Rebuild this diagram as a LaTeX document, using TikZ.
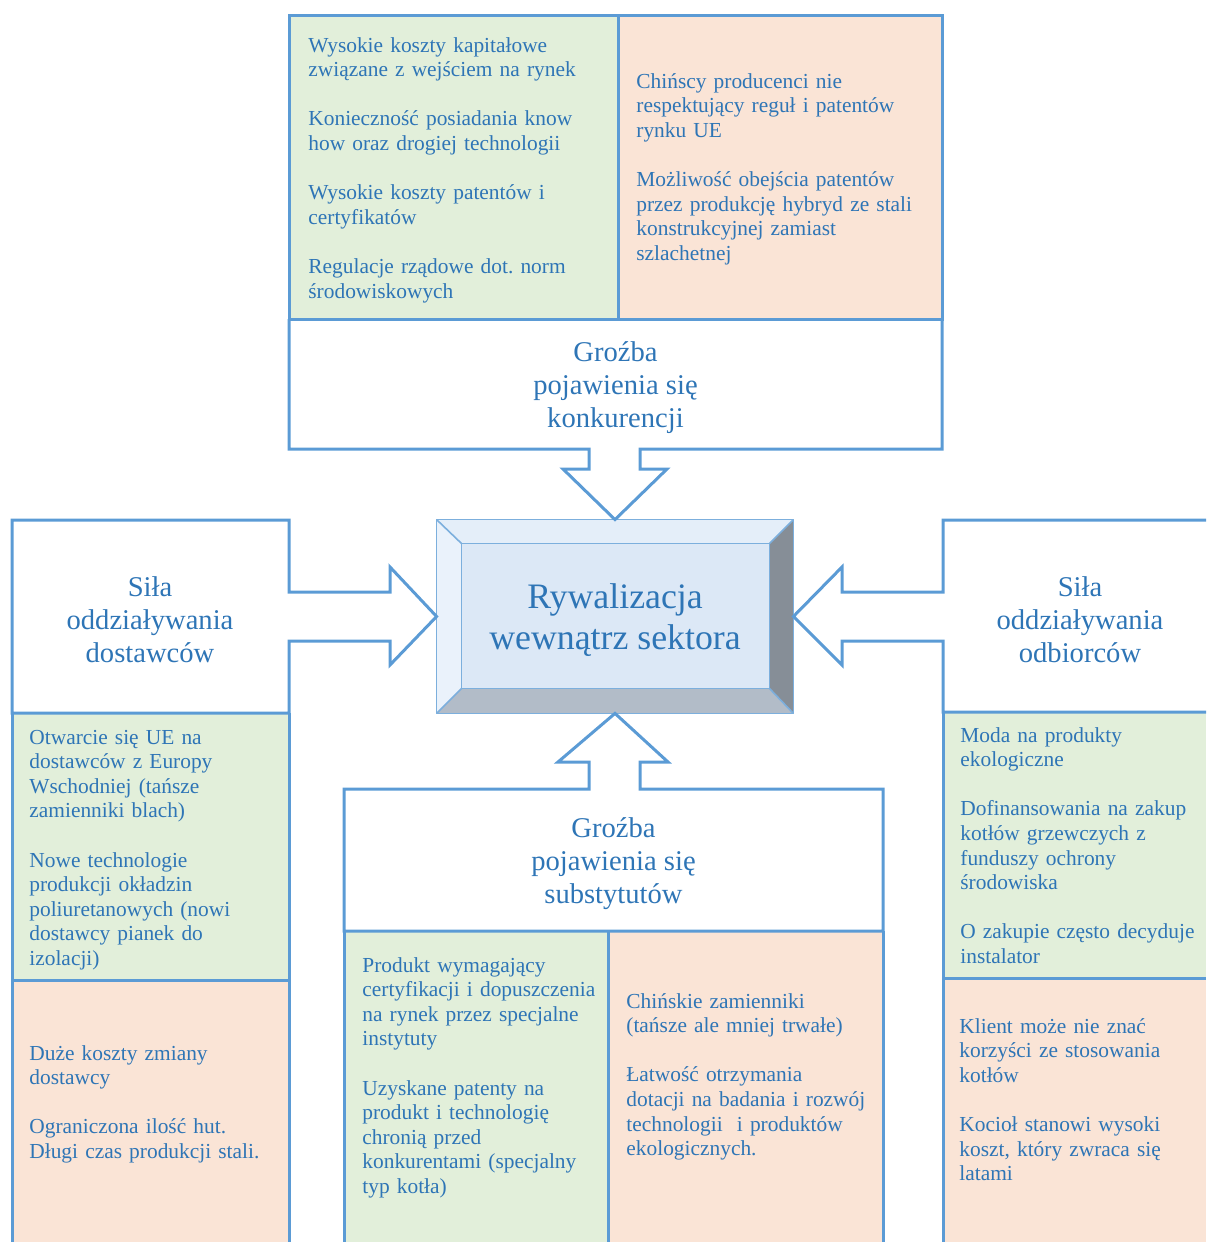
\documentclass[tikz,border=0pt]{standalone}
\usepackage{fontspec}
\setmainfont{Liberation Serif}
\usetikzlibrary{calc}

\definecolor{frameblue}{RGB}{91,155,213}
\definecolor{textblue}{RGB}{46,117,182}
\definecolor{lightgreen}{RGB}{226,239,218}
\definecolor{lightpeach}{RGB}{250,228,214}
\definecolor{bevelface}{RGB}{220,232,246}
\definecolor{beveltop}{RGB}{228,238,249}
\definecolor{bevelleft}{RGB}{234,242,251}
\definecolor{bevelright}{RGB}{134,142,151}
\definecolor{bevelbottom}{RGB}{178,188,200}

\tikzset{
    boxline/.style = {
        draw = frameblue,
        line width = 1.5pt,
        },
    greenfield/.style = {
        fill = lightgreen,
        },
    peachfield/.style = {
        fill = lightpeach,
        },
    headtext/.style = {
        text = textblue,
        align = center,
        inner sep = 0pt,
        font = \fontsize{14.3}{16.5}\selectfont,
        },
    pointtext/.style = {
        text = textblue,
        anchor = base west,
        inner sep = 0pt,
        text width = 140pt,
        align = left,
        font = \fontsize{10.7}{12.3}\selectfont\frenchspacing,
        },
    bevel/.style = {
        draw = frameblue!80,
        line width = 0.8pt,
        line join = round,
        },
}

\begin{document}
\begin{tikzpicture}[x=0.5pt, y=-0.5pt]
\useasboundingbox (0,0) rectangle (1206,1242);

% central block
\path (615,616.5) node[minimum width=178pt, minimum height=96.5pt, inner sep=0pt] (rival) {};
\coordinate (inw) at ($(rival.north west)+(25,24)$);
\coordinate (ine) at ($(rival.north east)+(-24,24)$);
\coordinate (isw) at ($(rival.south west)+(25,-25)$);
\coordinate (ise) at ($(rival.south east)+(-24,-25)$);
\fill[beveltop] (rival.north west) -- (rival.north east) -- (ine) -- (inw) -- cycle;
\fill[bevelleft] (rival.north west) -- (inw) -- (isw) -- (rival.south west) -- cycle;
\fill[bevelright] (rival.north east) -- (rival.south east) -- (ise) -- (ine) -- cycle;
\fill[bevelbottom] (rival.south west) -- (isw) -- (ise) -- (rival.south east) -- cycle;
\fill[bevelface] (inw) rectangle (ise);
\draw[bevel] (rival.north west) rectangle (rival.south east);
\draw[bevel] (inw) rectangle (ise);
\draw[bevel] (rival.north west) -- (inw) (rival.north east) -- (ine)
    (rival.south west) -- (isw) (rival.south east) -- (ise);
\node[headtext, font=\fontsize{17.9}{20.5}\selectfont] (rivaltext) at (615,620) {Rywalizacja\\wewnątrz sektora};

% new entrants (top)
\fill[greenfield] (289,15) rectangle (618,319);
\fill[peachfield] (618,15) rectangle (942,319);
\draw[boxline] (289,15) rectangle (942,319);
\draw[boxline] (618,15) -- (618,319);
\draw[boxline] (289,319) -- (289,449) -- (589,449) -- (589,469) -- (563,469) -- (rival.north)
    -- (667,469) -- (640,469) -- (640,449) -- (942,449) -- (942,319);
\node[headtext] (entry) at (615.5,388) {Groźba\\pojawienia się\\konkurencji};

% suppliers (left)
\fill[greenfield] (12,713) rectangle (289,980);
\fill[peachfield] (12,980) rectangle (289,1242);
\draw[boxline] (12,713) -- (12,1242) (289,713) -- (289,1242) (12,980) -- (289,980);
\draw[boxline] (289,592) -- (289,520) -- (12,520) -- (12,713) -- (289,713) -- (289,641)
    -- (390,641) -- (390,665) -- (rival.west) -- (390,567) -- (390,592) -- cycle;
\node[headtext] (supply) at (150,620) {Siła\\oddziaływania\\dostawców};

% buyers (right)
\fill[greenfield] (943,712) rectangle (1206,978);
\fill[peachfield] (943,978) rectangle (1206,1242);
\draw[boxline] (943,712) -- (943,1242) (943,978) -- (1206,978);
\draw[boxline] (1206,712) -- (943,712) -- (943,641) -- (842,641) -- (842,665) -- (rival.east)
    -- (842,567) -- (842,592) -- (943,592) -- (943,520) -- (1206,520);
\node[headtext] (buyers) at (1080,620) {Siła\\oddziaływania\\odbiorców};

% substitutes (bottom)
\fill[greenfield] (344,931) rectangle (608,1242);
\fill[peachfield] (608,931) rectangle (883,1242);
\draw[boxline] (344,931) -- (344,1242) (883,931) -- (883,1242) (608,931) -- (608,1242);
\draw[boxline] (589,789) -- (344,789) -- (344,931) -- (883,931) -- (883,789) -- (640,789)
    -- (640,762) -- (668,762) -- (rival.south) -- (558,762) -- (589,762) -- cycle;
\node[headtext] (subst) at (613.5,864) {Groźba\\pojawienia się\\substytutów};

% factors
\node[pointtext] (entryplus) at (308,52) {Wysokie koszty kapitałowe\\związane z wejściem na rynek\\[\baselineskip]
    Konieczność posiadania know\\how oraz drogiej technologii\\[\baselineskip]
    Wysokie koszty patentów i\\certyfikatów\\[\baselineskip]
    Regulacje rządowe dot. norm\\środowiskowych};
\node[pointtext] (entryminus) at (636,88) {Chińscy producenci nie\\respektujący reguł i patentów\\rynku UE\\[\baselineskip]
    Możliwość obejścia patentów\\przez produkcję hybryd ze stali\\konstrukcyjnej zamiast\\szlachetnej};
\node[pointtext] (supplyplus) at (29,744) {Otwarcie się UE na\\dostawców z Europy\\Wschodniej (tańsze\\zamienniki blach)\\[\baselineskip]
    Nowe technologie\\produkcji okładzin\\poliuretanowych (nowi\\dostawcy pianek do\\izolacji)};
\node[pointtext] (supplyminus) at (29,1060) {Duże koszty zmiany\\dostawcy\\[\baselineskip]
    Ograniczona ilość hut.\\Długi czas produkcji stali.};
\node[pointtext] (substplus) at (362,972) {Produkt wymagający\\certyfikacji i dopuszczenia\\na rynek przez specjalne\\instytuty\\[\baselineskip]
    Uzyskane patenty na\\produkt i technologię\\chronią przed\\konkurentami (specjalny\\typ kotła)};
\node[pointtext] (substminus) at (626,1008) {Chińskie zamienniki\\(tańsze ale mniej trwałe)\\[\baselineskip]
    Łatwość otrzymania\\dotacji na badania i rozwój\\technologii~ i produktów\\ekologicznych.};
\node[pointtext] (buyersplus) at (960,742) {Moda na produkty\\ekologiczne\\[\baselineskip]
    Dofinansowania na zakup\\kotłów grzewczych z\\funduszy ochrony\\środowiska\\[\baselineskip]
    O zakupie często decyduje\\instalator};
\node[pointtext] (buyersminus) at (959,1033) {Klient może nie znać\\korzyści ze stosowania\\kotłów\\[\baselineskip]
    Kocioł stanowi wysoki\\koszt, który zwraca się\\latami};
\end{tikzpicture}
\end{document}
